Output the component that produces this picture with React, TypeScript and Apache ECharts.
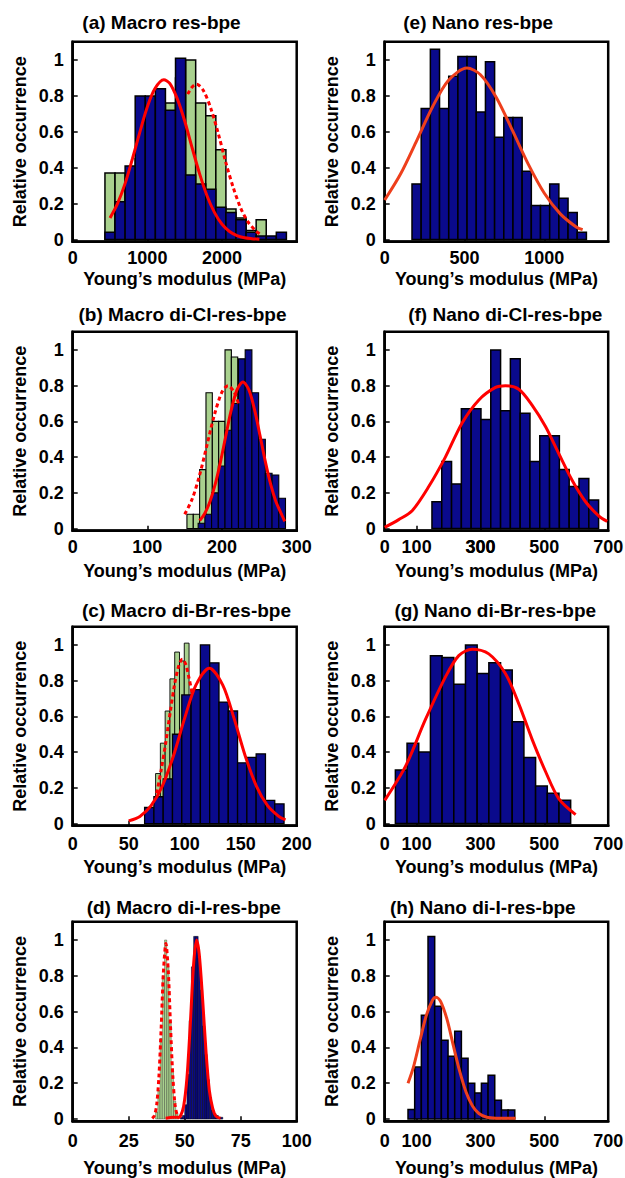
import React, { useEffect, useRef } from 'react';
import * as echarts from 'echarts';

const FONT = '"Liberation Sans", Arial, Helvetica, sans-serif';
const BLUE = '#0a0a8c';
const GREEN = '#a9d18e';
const RED = '#ff0000';
const ORANGE_RED = '#ee3f1c';
const X_NAME = 'Young\u2019s modulus (MPa)';
const Y_NAME = 'Relative occurrence';
const yTicks = [0, 0.2, 0.4, 0.6, 0.8, 1];

// ---------- (a) Macro res-bpe ----------
const aBinStart = 432;
const aBinWidth = 135;
const aBlue = [0.04, 0.21, 0.41, 0.8, 0.8, 0.84, 0.72, 1.01, 0.36, 0.31, 0.28, 0.18, 0.15, 0.11, 0.04, 0.02, 0.02, 0.04];
const aGreen = [0.37, 0.37, 0.3, 0.45, 0.55, 0.65, 0.76, 0.9, 1.0, 0.76, 0.69, 0.5, 0.17, 0.12, 0.05, 0.11, 0, 0];
const aFitBlue = [[500, 0.12], [600, 0.2], [700, 0.31], [800, 0.45], [900, 0.6], [1000, 0.74], [1100, 0.84], [1220, 0.89], [1300, 0.87], [1400, 0.785], [1500, 0.66], [1600, 0.51], [1700, 0.366], [1800, 0.243], [1900, 0.15], [2000, 0.085], [2100, 0.045], [2200, 0.022], [2300, 0.01], [2400, 0.005], [2500, 0.002]];
const aFitGreen = [[1540, 0.81], [1600, 0.85], [1660, 0.865], [1750, 0.83], [1850, 0.73], [1950, 0.59], [2050, 0.43], [2150, 0.29], [2250, 0.175], [2350, 0.097], [2450, 0.049], [2510, 0.03]];
const aTicks = [0, 1000, 2000];

// ---------- (b) Macro di-Cl-res-bpe ----------
const bBlueStart = 168;
const bBlueWidth = 9;
const bBlue = [0.03, 0.08, 0.2, 0.35, 0.55, 0.7, 0.95, 1.0, 0.76, 0.5, 0.31, 0.3, 0.17];
const bGreenStart = 153;
const bGreenWidth = 8.5;
const bGreen = [0.08, 0.08, 0.33, 0.76, 0.6, 0.6, 1.0, 0.96, 0.7, 0.45, 0.2, 0.05];
const bFitBlue = [[170, 0.044], [177, 0.086], [184, 0.153], [191, 0.25], [198, 0.375], [205, 0.518], [212, 0.657], [220, 0.776], [228, 0.82], [236, 0.776], [244, 0.657], [251, 0.518], [258, 0.375], [265, 0.25], [272, 0.153], [279, 0.086], [284, 0.04]];
const bFitGreen = [[150, 0.08], [160, 0.165], [170, 0.3], [180, 0.47], [190, 0.64], [200, 0.765], [208, 0.8], [216, 0.765], [222, 0.7]];
const bTicks = [0, 100, 200, 300];

// ---------- (c) Macro di-Br-res-bpe ----------
const cBlueStart = 64.2;
const cBlueWidth = 8.3;
const cBlue = [0.09, 0.15, 0.25, 0.5, 0.72, 0.75, 1.0, 0.9, 0.68, 0.63, 0.34, 0.37, 0.39, 0.13, 0.11];
const cGreenStart = 74;
const cGreenWidth = 4.27;
const cGreen = [0.28, 0.45, 0.63, 0.81, 0.96, 0.91, 1.01];
const cFitBlue = [[50, 0.015], [60, 0.04], [70, 0.1], [80, 0.21], [90, 0.38], [100, 0.59], [110, 0.775], [122, 0.87], [134, 0.775], [144, 0.59], [154, 0.38], [164, 0.21], [174, 0.1], [184, 0.04], [190, 0.02]];
const cFitGreen = [[75, 0.17], [79, 0.3], [83, 0.45], [87, 0.62], [91, 0.78], [95, 0.89], [98, 0.92], [101, 0.89], [104, 0.81], [107, 0.72]];
const cTicks = [0, 50, 100, 150, 200];

// ---------- (d) Macro di-I-res-bpe ----------
const dBlueStart = 48;
const dBlueWidth = 1;
const dBlue = [0.01, 0.02, 0.08, 0.25, 0.55, 0.85, 1.02, 1.02, 0.9, 0.72, 0.52, 0.36, 0.22, 0.12, 0.05, 0.03, 0.02, 0.01, 0.01];
const dGreenStart = 37;
const dGreenWidth = 1;
const dGreen = [0.04, 0.16, 0.45, 0.8, 1.0, 0.85, 0.55, 0.28, 0.1, 0.03];
const dFitBlue = [[41.5, 0.005], [45, 0.01], [47, 0.01], [48, 0.014], [49.5, 0.07], [51, 0.23], [52.5, 0.53], [54, 0.87], [55.3, 1.0], [56.5, 0.92], [58, 0.67], [59.5, 0.38], [61, 0.16], [62.5, 0.06], [64, 0.015], [66, 0.005]];
const dFitGreen = [[35.5, 0.004], [36.5, 0.02], [37.5, 0.08], [38.5, 0.24], [39.5, 0.51], [40.5, 0.82], [41.6, 0.98], [42.7, 0.82], [43.7, 0.51], [44.7, 0.24], [45.7, 0.08], [46.7, 0.02], [47.7, 0.004]];
const dTicks = [0, 25, 50, 75, 100];

// ---------- (e) Nano res-bpe ----------
const eBinStart = 171;
const eBinWidth = 57.5;
const eBlue = [0.31, 0.73, 1.06, 0.73, 0.91, 1.02, 1.02, 0.71, 0.99, 0.57, 0.68, 0.68, 0.38, 0.19, 0.19, 0.31, 0.23, 0.15, 0.04];
const eFit = [[0, 0.22], [100, 0.366], [200, 0.55], [300, 0.74], [400, 0.887], [515, 0.955], [600, 0.918], [700, 0.79], [800, 0.608], [900, 0.419], [1000, 0.258], [1100, 0.143], [1200, 0.07], [1240, 0.055]];
const eTicks = [0, 500, 1000];

// ---------- (f) Nano di-Cl-res-bpe ----------
const fBinStart = 148;
const fBinWidth = 30.7;
const fBlue = [0.15, 0.375, 0.25, 0.67, 0.67, 0.61, 1.0, 0.66, 0.95, 0.645, 0.375, 0.52, 0.52, 0.33, 0.235, 0.28, 0.16];
const fFit = [[0, 0.007], [44, 0.05], [86, 0.1], [138, 0.235], [190, 0.4], [242, 0.59], [295, 0.72], [347, 0.79], [378, 0.8], [420, 0.78], [462, 0.69], [504, 0.57], [545, 0.42], [587, 0.27], [629, 0.15], [671, 0.07], [697, 0.04]];
const fTicks = [0, 100, 300, 500, 700];

// ---------- (g) Nano di-Br-res-bpe ----------
const gBinStart = 33.4;
const gBinWidth = 36.6;
const gBlue = [0.3, 0.45, 0.4, 0.94, 0.93, 0.78, 1.0, 0.84, 0.9, 0.86, 0.57, 0.37, 0.21, 0.17, 0.13];
const gFit = [[0, 0.13], [65, 0.32], [127, 0.58], [190, 0.82], [232, 0.94], [274, 0.976], [326, 0.95], [378, 0.84], [420, 0.67], [462, 0.47], [504, 0.29], [545, 0.14], [598, 0.05]];
const gTicks = [0, 100, 300, 500, 700];

// ---------- (h) Nano di-I-res-bpe ----------
const hBinStart = 73;
const hBinWidth = 20.9;
const hBlue = [0.054, 0.29, 0.58, 1.02, 0.63, 0.44, 0.35, 0.49, 0.34, 0.2, 0.146, 0.2, 0.245, 0.105, 0.05, 0.05];
const hFit = [[73, 0.2], [90, 0.29], [110, 0.435], [130, 0.577], [150, 0.665], [161, 0.68], [175, 0.657], [195, 0.558], [215, 0.41], [235, 0.266], [255, 0.15], [275, 0.073], [295, 0.031], [320, 0.01], [350, 0.005], [410, 0.004]];
const hTicks = [0, 100, 300, 500, 700];

// ---------- layout ----------
const COL_LEFT = [72.7, 384.7];
const COL_WIDTH = [224, 223.5];
const ROW_TOP = [41.7, 331.7, 626.7, 921.7];
const ROW_HEIGHT = [200, 199, 199, 199.5];
const ROW_TITLE_Y = [22.5, 314.5, 610.5, 907];
const ROW_LABEL_MARGIN = [7, 7, 9, 11];
const ROW_NAME_GAP = [28, 31, 32, 38];
const COL_YNAME_GAP = 44;

type Hist = { start: number; width: number; heights: number[]; color: string; lw: number };
type Fit = { pts: number[][]; dashed?: boolean; color: string };
type Panel = {
  title: string; titleX: number; col: number; row: number;
  xMax: number; ticks: number[];
  hists: Hist[]; fits: Fit[];
};

const panels: Panel[] = [
  {
    title: '(a) Macro res-bpe', titleX: 161.5, col: 0, row: 0, xMax: 3000, ticks: aTicks,
    hists: [
      { start: aBinStart, width: aBinWidth, heights: aGreen, color: GREEN, lw: 1.5 },
      { start: aBinStart, width: aBinWidth, heights: aBlue, color: BLUE, lw: 1.5 },
    ],
    fits: [{ pts: aFitGreen, dashed: true, color: RED }, { pts: aFitBlue, color: RED }],
  },
  {
    title: '(b) Macro di-Cl-res-bpe', titleX: 182.5, col: 0, row: 1, xMax: 300, ticks: bTicks,
    hists: [
      { start: bGreenStart, width: bGreenWidth, heights: bGreen, color: GREEN, lw: 1.1 },
      { start: bBlueStart, width: bBlueWidth, heights: bBlue, color: BLUE, lw: 1.1 },
    ],
    fits: [{ pts: bFitGreen, dashed: true, color: RED }, { pts: bFitBlue, color: RED }],
  },
  {
    title: '(c) Macro di-Br-res-bpe', titleX: 186.5, col: 0, row: 2, xMax: 200, ticks: cTicks,
    hists: [
      { start: cGreenStart, width: cGreenWidth, heights: cGreen, color: GREEN, lw: 0.9 },
      { start: cBlueStart, width: cBlueWidth, heights: cBlue, color: BLUE, lw: 1.3 },
    ],
    fits: [{ pts: cFitGreen, dashed: true, color: RED }, { pts: cFitBlue, color: RED }],
  },
  {
    title: '(d) Macro di-I-res-bpe', titleX: 183.8, col: 0, row: 3, xMax: 100, ticks: dTicks,
    hists: [
      { start: dGreenStart, width: dGreenWidth, heights: dGreen, color: GREEN, lw: 0.3 },
      { start: dBlueStart, width: dBlueWidth, heights: dBlue, color: BLUE, lw: 0.5 },
    ],
    fits: [{ pts: dFitGreen, dashed: true, color: RED }, { pts: dFitBlue, color: RED }],
  },
  {
    title: '(e) Nano res-bpe', titleX: 478.2, col: 1, row: 0, xMax: 1400, ticks: eTicks,
    hists: [{ start: eBinStart, width: eBinWidth, heights: eBlue, color: BLUE, lw: 1.5 }],
    fits: [{ pts: eFit, color: ORANGE_RED }],
  },
  {
    title: '(f) Nano di-Cl-res-bpe', titleX: 505.3, col: 1, row: 1, xMax: 700, ticks: fTicks,
    hists: [{ start: fBinStart, width: fBinWidth, heights: fBlue, color: BLUE, lw: 1.5 }],
    fits: [{ pts: fFit, color: RED }],
  },
  {
    title: '(g) Nano di-Br-res-bpe', titleX: 495.3, col: 1, row: 2, xMax: 700, ticks: gTicks,
    hists: [{ start: gBinStart, width: gBinWidth, heights: gBlue, color: BLUE, lw: 1.5 }],
    fits: [{ pts: gFit, color: RED }],
  },
  {
    title: '(h) Nano di-I-res-bpe', titleX: 482.8, col: 1, row: 3, xMax: 700, ticks: hTicks,
    hists: [{ start: hBinStart, width: hBinWidth, heights: hBlue, color: BLUE, lw: 1.5 }],
    fits: [{ pts: hFit, color: ORANGE_RED }],
  },
];

const labelStyle = { color: '#000', fontSize: 18, fontWeight: 'bold', fontFamily: FONT };

function buildOption() {
  const grids: any[] = [];
  const xAxes: any[] = [];
  const yAxes: any[] = [];
  const series: any[] = [];
  const graphics: any[] = [];

  panels.forEach((p, gi) => {
    grids.push({
      left: COL_LEFT[p.col], top: ROW_TOP[p.row], width: COL_WIDTH[p.col], height: ROW_HEIGHT[p.row],
      show: true, borderColor: '#000', borderWidth: 2.5, backgroundColor: 'transparent',
      containLabel: false, outerBoundsMode: 'none',
    });
    xAxes.push({
      type: 'value', gridIndex: gi, min: 0, max: p.xMax,
      axisLine: { show: true, onZero: false, lineStyle: { color: '#000', width: 2.5 } },
      axisTick: { show: true, inside: true, length: 5, customValues: p.ticks, lineStyle: { color: '#000', width: 1.5 } },
      splitLine: { show: false },
      axisLabel: {
        ...labelStyle, margin: ROW_LABEL_MARGIN[p.row], hideOverlap: false,
        customValues: p.ticks, showMinLabel: true, showMaxLabel: true,
        formatter: (v: number) => String(Math.round(v)),
      },
      name: X_NAME, nameLocation: 'middle', nameGap: ROW_NAME_GAP[p.row], nameMoveOverlap: false,
      nameTextStyle: { ...labelStyle, lineHeight: 18 },
    });
    yAxes.push({
      type: 'value', gridIndex: gi, min: -0.012, max: 1.102,
      axisLine: { show: true, onZero: false, lineStyle: { color: '#000', width: 2.5 } },
      axisTick: { show: true, inside: true, length: 5, customValues: yTicks, lineStyle: { color: '#000', width: 1.5 } },
      splitLine: { show: false },
      axisLabel: {
        ...labelStyle, margin: 9, hideOverlap: false,
        customValues: yTicks, showMinLabel: true, showMaxLabel: true,
        formatter: (v: number) => String(Math.round(v * 10) / 10),
      },
      name: Y_NAME, nameLocation: 'middle', nameGap: COL_YNAME_GAP, nameMoveOverlap: false,
      nameTextStyle: labelStyle,
    });

    p.hists.forEach((h, hi) => {
      const data = h.heights
        .map((v, i) => [h.start + i * h.width, h.start + (i + 1) * h.width, v])
        .filter((d) => d[2] > 0);
      const fill = h.color;
      const lw = h.lw;
      series.push({
        type: 'custom', xAxisIndex: gi, yAxisIndex: gi, z: 2 + hi, silent: true,
        encode: { x: [0, 1], y: 2 },
        data,
        renderItem: (params: any, api: any) => {
          const x0 = api.value(0);
          const x1 = api.value(1);
          const v = api.value(2);
          const tl = api.coord([x0, v]);
          const br = api.coord([x1, 0]);
          return {
            type: 'rect',
            shape: { x: tl[0], y: tl[1], width: br[0] - tl[0], height: br[1] - tl[1] },
            style: { fill, stroke: '#000', lineWidth: lw },
          };
        },
      });
    });

    p.fits.forEach((f) => {
      series.push({
        type: 'line', xAxisIndex: gi, yAxisIndex: gi, z: 6, silent: true,
        data: f.pts, symbol: 'none', smooth: 0.3,
        lineStyle: { color: f.color, width: 3, type: f.dashed ? [4, 3] : 'solid', cap: 'butt' },
      });
    });

    graphics.push({
      type: 'text', id: `title-${gi}`, x: p.titleX, y: ROW_TITLE_Y[p.row], silent: true, z: 50,
      style: {
        text: p.title, fill: '#000', align: 'center', verticalAlign: 'middle',
        font: `bold 19px ${FONT}`,
      },
    });
  });

  return {
    animation: false,
    backgroundColor: '#fff',
    grid: grids,
    xAxis: xAxes,
    yAxis: yAxes,
    series,
    graphic: graphics,
  };
}

export default function App() {
  const ref = useRef<HTMLDivElement>(null);
  useEffect(() => {
    if (!ref.current) return;
    document.body.style.margin = '0';
    const chart = echarts.init(ref.current, undefined, { renderer: 'svg' });
    const option: any = buildOption();
    chart.setOption(option);
    // Panel (f): its "300" tick label does not appear through the axis in this renderer,
    // so it is placed as text at the position the axis scale gives for 300.
    const fIndex = 5;
    const fPanel = panels[fIndex];
    const px = chart.convertToPixel({ xAxisIndex: fIndex }, 300) as number;
    const y = ROW_TOP[fPanel.row] + ROW_HEIGHT[fPanel.row] + ROW_LABEL_MARGIN[fPanel.row] + 9;
    if (typeof px === 'number' && isFinite(px)) {
      chart.setOption({
        graphic: [
          ...option.graphic,
          {
            type: 'text', id: 'f-tick-300', x: px, y, z: 100, silent: true,
            style: { text: '300', fill: '#000', align: 'center', verticalAlign: 'middle', font: `bold 18px ${FONT}` },
          },
        ],
      });
    }
    return () => chart.dispose();
  }, []);
  return <div ref={ref} style={{ position: 'absolute', left: 0, top: 0, width: 625, height: 1178 }} />;
}
